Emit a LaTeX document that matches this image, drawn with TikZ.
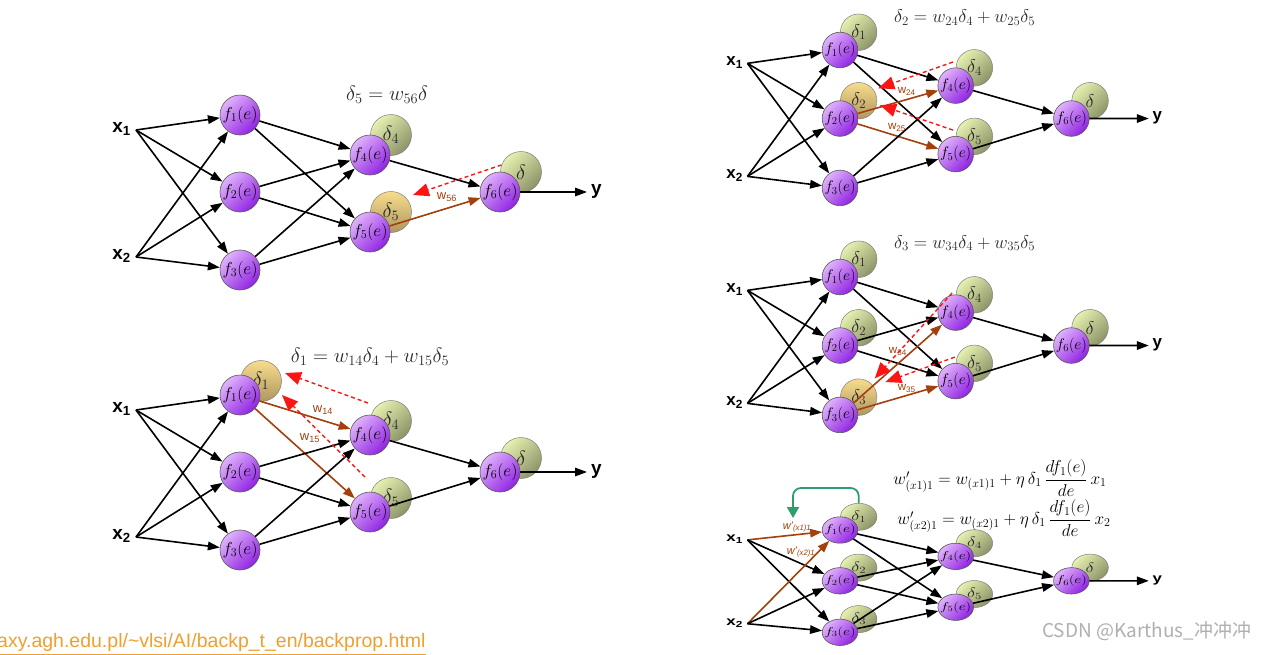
\documentclass[tikz,border=0pt]{standalone}
\usepackage{amsmath}
\usepackage{fontspec}
\setsansfont{Liberation Sans}
\newfontfamily\cjkfont{Noto Sans CJK SC}
\usetikzlibrary{arrows.meta}
\definecolor{vioL}{HTML}{E0B2FC}
\definecolor{vioD}{HTML}{9024E2}
\definecolor{grL}{HTML}{E6F0B0}
\definecolor{grD}{HTML}{8C9468}
\definecolor{tnL}{HTML}{F8DC8C}
\definecolor{tnD}{HTML}{AE9660}
\definecolor{brn}{HTML}{A3400C}
\definecolor{bpred}{HTML}{FF1414}
\definecolor{grn}{HTML}{2E9E6E}
\definecolor{fgray}{HTML}{2A2A2A}
\definecolor{urlc}{HTML}{F0A030}
\definecolor{wmc}{HTML}{B0B0B0}

% one network panel in local coordinates (f1 at the origin)
% #1 prefix, #2 delta bubbles n/label/style, #3 bubble offset
\newcommand\drawnet[3]{%
  \coordinate (#1c1) at (0,0);
  \coordinate (#1c2) at (0,77);
  \coordinate (#1c3) at (0,155);
  \coordinate (#1c4) at (130,40);
  \coordinate (#1c5) at (130,117);
  \coordinate (#1c6) at (260,77);
  \foreach \n/\lab/\sty in {#2}
    \path (#1c\n) ++#3 node[\sty] (#1d\n) {$\lab$};
  \foreach \n in {1,...,6}
    \node[neuron] (#1f\n) at (#1c\n) {$f_{\n}(e)$};
  \node[inp] (#1i1) at (-104,15) {x\textsubscript{1}};
  \node[inp] (#1i2) at (-104,142) {x\textsubscript{2}};
  \node[outp] (#1o) at (347,77) {y};
  \foreach \a in {1,2} \foreach \b in {1,2,3}
    \draw[edge,ei\a\b/.try] (#1i\a.mid east) -- (#1f\b);
  \foreach \a in {1,2,3} \foreach \b in {4,5}
    \draw[edge,e\a\b/.try] (#1f\a) -- (#1f\b);
  \foreach \a in {4,5}
    \draw[edge,e\a6/.try] (#1f\a) -- (#1f6);
  \draw[edge] (#1f6) -- (#1o.mid west);
}

\begin{document}
\begin{tikzpicture}[x=1pt,y=-1pt,
  neuron/.style={circle,draw=black!65,line width=.6pt,minimum size=40pt,inner sep=0pt,
    top color=vioL,bottom color=vioD,shading angle=45,font=\fontsize{18}{18}\selectfont},
  dg/.style={circle,draw=black!50,line width=.5pt,minimum size=41pt,inner sep=0pt,
    top color=grL,bottom color=grD,shading angle=45,text=black!85,font=\fontsize{20}{20}\selectfont},
  ds/.style={dg,top color=tnL,bottom color=tnD},
  inp/.style={anchor=mid east,inner xsep=5pt,font=\sffamily\bfseries\fontsize{19}{19}\selectfont},
  outp/.style={inp,anchor=mid west,inner xsep=4pt},
  edge/.style={line width=1.6pt,-{Triangle[length=12pt,width=8.5pt]}},
  hl/.style={draw=brn},
  bp/.style={draw=bpred,line width=1.4pt,dash pattern=on 4pt off 3pt,-{Triangle[length=16pt,width=13pt]}},
  fb/.style={draw=grn,line width=1.8pt,rounded corners=8pt,-{Triangle[length=11pt,width=12pt]}},
  wl/.style={text=brn,font=\sffamily\fontsize{13}{13}\selectfont},
  frm/.style={text=fgray,font=\fontsize{21.5}{21.5}\selectfont}]
\useasboundingbox (0,0) rectangle (1267,654);
\fill[white] (0,0) rectangle (1267,654);

% delta_5 from the output
\begin{scope}[shift={(240,115)},e56/.style={hl}]
  \drawnet{a}{4/\delta_4/dg,5/\delta_5/ds,6/\delta/dg}{(21,-20)}
  \node[frm] (aform) at (147,-20) {$\delta_5 = w_{56}\delta$};
  \node[wl] (aw56) at (207,82) {w\textsubscript{56}};
  \coordinate (aq) at (173,80);
  \draw[bp] (ad6.160) -- (aq);
\end{scope}

% delta_1
\begin{scope}[shift={(240,395)},e14/.style={hl},e15/.style={hl}]
  \drawnet{b}{1/\delta_1/ds,4/\delta_4/dg,5/\delta_5/dg,6/\delta/dg}{(21,-14)}
  \node[frm] (bform) at (130,-38) {$\delta_1 = w_{14}\delta_4 + w_{15}\delta_5$};
  \node[wl] (bw14) at (83,15) {w\textsubscript{14}};
  \node[wl] (bw15) at (70,43) {w\textsubscript{15}};
  \coordinate (bs4) at (128,8);   \coordinate (bq4) at (45,-22);
  \coordinate (bs5) at (125,82);  \coordinate (bq5) at (42,0);
  \draw[bp] (bs4) -- (bq4);
  \draw[bp] (bs5) -- (bq5);
\end{scope}

% delta_2
\begin{scope}[shift={(840,50)},scale=.89,transform shape,e24/.style={hl},e25/.style={hl}]
  \drawnet{c}{1/\delta_1/dg,2/\delta_2/ds,4/\delta_4/dg,5/\delta_5/dg,6/\delta/dg}{(21,-20)}
  \node[frm] (cform) at (140,-36) {$\delta_2 = w_{24}\delta_4 + w_{25}\delta_5$};
  \node[wl] (cw24) at (75,47) {w\textsubscript{24}};
  \node[wl] (cw25) at (64,87) {w\textsubscript{25}};
  \coordinate (cs4) at (127,13.5); \coordinate (cq4) at (43,43);
  \coordinate (cs5) at (127,90);   \coordinate (cq5) at (45,62);
  \draw[bp] (cs4) -- (cq4);
  \draw[bp] (cs5) -- (cq5);
\end{scope}

% delta_3
\begin{scope}[shift={(840,277)},scale=.89,transform shape,e34/.style={hl},e35/.style={hl}]
  \drawnet{d}{1/\delta_1/dg,2/\delta_2/dg,3/\delta_3/ds,4/\delta_4/dg,5/\delta_5/dg,6/\delta/dg}{(21,-20)}
  \node[frm] (dform) at (140,-38) {$\delta_3 = w_{34}\delta_4 + w_{35}\delta_5$};
  \node[wl] (dw34) at (65,84) {w\textsubscript{34}};
  \node[wl] (dw35) at (75,125) {w\textsubscript{35}};
  \coordinate (ds4) at (126,18); \coordinate (dq4) at (39,114);
  \coordinate (ds5) at (129,90); \coordinate (dq5) at (51,118);
  \draw[bp] (ds4) -- (dq4);
  \draw[bp] (ds5) -- (dq5);
\end{scope}

% weight update, squeezed panel
\begin{scope}[shift={(840,530)},xscale=.89,yscale=.66,transform shape,ei11/.style={hl},ei21/.style={hl}]
  \drawnet{e}{1/\delta_1/dg,2/\delta_2/dg,3/\delta_3/dg,4/\delta_4/dg,5/\delta_5/dg,6/\delta/dg}{(21,-20)}
\end{scope}
\node[wl,font=\sffamily\itshape\fontsize{11}{11}\selectfont] (ewx1) at (797,527) {w'\textsubscript{(x1)1}};
\node[wl,font=\sffamily\itshape\fontsize{11}{11}\selectfont] (ewx2) at (801,552) {w'\textsubscript{(x2)1}};
\coordinate (eh) at (793,488);
\coordinate (eg) at (793,518);
\draw[fb] (ed1.north) |- (eh) -- (eg);
\node[frm,text=black,font=\fontsize{16.5}{16.5}\selectfont] (eform1) at (1000,478)
  {$w'_{(x1)1} = w_{(x1)1} + \eta\,\delta_1\,\dfrac{df_1(e)}{de}\,x_1$};
\node[frm,text=black,font=\fontsize{16.5}{16.5}\selectfont] (eform2) at (1004,518)
  {$w'_{(x2)1} = w_{(x2)1} + \eta\,\delta_1\,\dfrac{df_1(e)}{de}\,x_2$};

\node[anchor=base west,inner sep=0pt,text=urlc,font=\sffamily\fontsize{19.5}{19.5}\selectfont] (src) at (-3,647)
  {\underline{axy.agh.edu.pl/\textasciitilde vlsi/AI/backp\_t\_en/backprop.html}};
\node[anchor=base west,inner sep=0pt,text=wmc,font=\cjkfont\fontsize{19}{19}\selectfont] (csdn) at (1042,637)
  {CSDN @Karthus\_冲冲冲};
\end{tikzpicture}
\end{document}
